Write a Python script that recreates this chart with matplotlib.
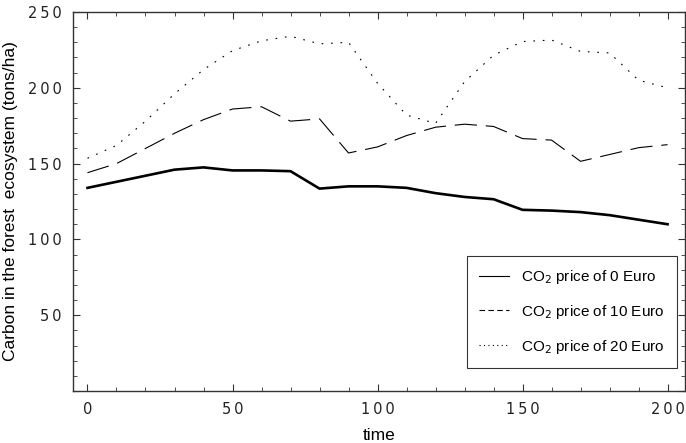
import matplotlib
matplotlib.use('Agg')
import matplotlib.pyplot as plt
from matplotlib.ticker import MultipleLocator, FuncFormatter

# time steps
time = [0, 10, 20, 30, 40, 50, 60, 70, 80, 90, 100,
        110, 120, 130, 140, 150, 160, 170, 180, 190, 200]

# carbon stock (tons/ha) for three CO2 prices
price0 = [134, 138, 142, 146, 147.5, 145.5, 145.5, 145, 133.5, 135, 135,
          134, 130.5, 128, 126.5, 119.5, 119, 118, 116, 113, 110]
price10 = [144, 150, 160, 170, 179, 186, 187.5, 178, 179.5, 157, 161,
           168.5, 174, 176, 174.5, 166.5, 165.5, 151.5, 156, 160.5, 162.5]
price20 = [153.5, 162, 178, 196, 212, 224.5, 231, 234, 229, 230, 203,
           182, 176.5, 204, 221.5, 230.5, 231.5, 224, 223, 205, 200]

labels = ['CO$_2$ price of 0 Euro', 'CO$_2$ price of 10 Euro', 'CO$_2$ price of 20 Euro']

plt.rcParams['font.family'] = ['Liberation Sans', 'DejaVu Sans']

fig = plt.figure(figsize=(6.86, 4.43), dpi=100)
ax = fig.add_axes([0.1064, 0.1174, 0.8921, 0.8555])

ax.plot(time, price0, color='black', lw=1.9, label=labels[0])
ax.plot(time, price10, color='black', lw=0.8, dashes=(20, 8), label=labels[1])
ax.plot(time, price20, color='black', lw=0.8, dashes=(1.5, 7), label=labels[2])

ax.set_xlim(-5, 206)
ax.set_ylim(0, 250)
ax.xaxis.set_major_locator(MultipleLocator(50))
ax.xaxis.set_minor_locator(MultipleLocator(10))
ax.yaxis.set_major_locator(MultipleLocator(50))
ax.yaxis.set_minor_locator(MultipleLocator(10))


# spaced-out tick digits like the original
def spaced(v, pos):
    return '\u2009'.join(str(int(round(v))))


def spaced_y(v, pos):
    if round(v) == 0:
        return ''
    return '\u2009'.join(str(int(round(v))))


ax.xaxis.set_major_formatter(FuncFormatter(spaced))
ax.yaxis.set_major_formatter(FuncFormatter(spaced_y))

ax.tick_params(which='both', direction='in', top=True, right=True,
               colors='#333333', labelcolor='#222222')
ax.tick_params(which='major', length=5, width=0.8, labelsize=10.5, pad=8)
ax.tick_params(which='minor', length=3, width=0.6)
for lab in ax.get_xticklabels() + ax.get_yticklabels():
    lab.set_family('DejaVu Sans')
for s in ax.spines.values():
    s.set_color('#333333')
    s.set_linewidth(1.0)

ax.set_xlabel('time', fontsize=12.5, labelpad=8)
ax.set_ylabel('Carbon in the forest  ecosystem (tons/ha)', fontsize=12.5, labelpad=7)

leg = ax.legend(loc='lower right', bbox_to_anchor=(0.987, 0.061), fontsize=11,
                frameon=True, fancybox=False, edgecolor='black',
                handlelength=1.95, labelspacing=1.1, borderpad=0.8,
                handletextpad=0.8, borderaxespad=0)
leg.get_frame().set_linewidth(0.8)
for line in leg.get_lines():
    line.set_linewidth(0.8)
leg.get_lines()[1].set_dashes((5, 3))
leg.get_lines()[2].set_dashes((1, 3))

fig.savefig('out.png', dpi=100)
